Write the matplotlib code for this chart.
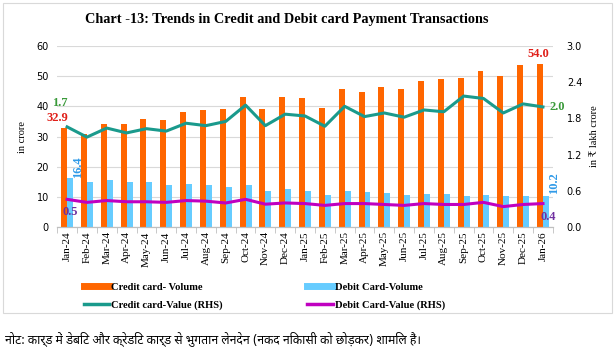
import matplotlib
matplotlib.use("Agg")
import matplotlib.pyplot as plt
from matplotlib.lines import Line2D
import numpy as np
from matplotlib import font_manager

months = ["Jan-24", "Feb-24", "Mar-24", "Apr-24", "May-24", "Jun-24", "Jul-24",
          "Aug-24", "Sep-24", "Oct-24", "Nov-24", "Dec-24", "Jan-25", "Feb-25",
          "Mar-25", "Apr-25", "May-25", "Jun-25", "Jul-25", "Aug-25", "Sep-25",
          "Oct-25", "Nov-25", "Dec-25", "Jan-26"]
credit_volume = [32.9, 30.9, 34.2, 34.2, 35.9, 35.6, 38.2, 38.9, 39.2, 43.2, 39.2, 43.2, 42.9,
                 39.5, 45.8, 44.8, 46.4, 45.8, 48.4, 49.1, 49.4, 51.8, 50.2, 53.8, 54.0]
debit_volume = [16.4, 15.0, 15.6, 15.0, 15.0, 14.0, 14.3, 14.0, 13.3, 14.0, 12.0, 12.7, 12.0,
                10.7, 12.0, 11.6, 11.3, 10.7, 11.0, 11.0, 10.4, 10.7, 10.3, 10.4, 10.2]
credit_value = [1.66, 1.49, 1.64, 1.56, 1.63, 1.59, 1.72, 1.68, 1.75, 2.02, 1.68, 1.87, 1.84,
                1.67, 2.00, 1.83, 1.89, 1.82, 1.94, 1.91, 2.17, 2.13, 1.89, 2.04, 1.99]
debit_value = [0.46, 0.41, 0.44, 0.42, 0.42, 0.41, 0.44, 0.43, 0.40, 0.46, 0.38, 0.40, 0.39,
               0.36, 0.39, 0.39, 0.375, 0.36, 0.39, 0.375, 0.375, 0.41, 0.34, 0.375, 0.39]

note = "नोट: कार्ड में डेबिट और क्रेडिट कार्ड से भुगतान लेनदेन (नकद निकासी को छोड़कर) शामिल हैं।"

# look for a font that can draw devanagari
deva = None
for f in font_manager.findSystemFonts():
    if "devanagari" in f.lower() or "lohit" in f.lower() or "mangal" in f.lower():
        deva = font_manager.FontProperties(fname=f).get_name()
        break

ORANGE = "#FF6600"
BLUE = "#66CCFF"
TEAL = "#1A9A8C"
MAGENTA = "#C000C0"
SERIF = ["Liberation Serif", "DejaVu Serif"]

fig = plt.figure(figsize=(6.15, 3.56), dpi=100)
ax = fig.add_axes([0.093, 0.362, 0.806, 0.509])
ax2 = ax.twinx()

x = np.arange(len(months))
w = 0.3
ax.bar(x - w / 2, credit_volume, w, color=ORANGE, zorder=2)
ax.bar(x + w / 2, debit_volume, w, color=BLUE, zorder=2)
ax2.plot(x, credit_value, color=TEAL, lw=2.2)
ax2.plot(x, debit_value, color=MAGENTA, lw=2.2)

ax.set_ylim(0, 60)
ax.set_yticks(range(0, 61, 10))
ax2.set_ylim(0, 3.0)
ax2.set_yticks(np.arange(0, 3.01, 0.6))
ax2.set_yticklabels(["%.1f" % v for v in np.arange(0, 3.01, 0.6)])
ax.set_xlim(-0.5, len(months) - 0.5)
ax.set_xticks(x)
ax.set_xticklabels(months, rotation=90, family=SERIF, fontsize=8)
ax.set_xticks(np.arange(-0.5, len(months), 1), minor=True)
ax.tick_params(axis="x", which="major", length=0, pad=3)
ax.tick_params(axis="x", which="minor", length=4, color="#BFBFBF")
ax.tick_params(axis="y", length=0, labelsize=7, pad=6)
ax2.tick_params(axis="y", length=0, labelsize=7, pad=10)
ax.grid(axis="y", color="#D9D9D9", lw=0.8, zorder=0)
ax.set_axisbelow(True)
for a in (ax, ax2):
    for s in ("top", "right", "left"):
        a.spines[s].set_visible(False)
    a.spines["bottom"].set_color("#BFBFBF")
ax.set_ylabel("in crore", fontsize=7.5, family=SERIF, labelpad=7)
ax2.set_ylabel("in ₹ lakh crore", fontsize=7.5, family=SERIF, labelpad=6)

# end labels
bold = dict(fontweight="bold", family=SERIF, fontsize=9)
ax.annotate("%.1f" % credit_volume[0], (0, credit_volume[0]), xytext=(-7, 3),
            textcoords="offset points", ha="center", va="bottom", color="#E0201A", **bold)
ax2.annotate("%.1f" % credit_value[0], (0, credit_value[0]), xytext=(-5, 13),
             textcoords="offset points", ha="center", va="bottom", color="#3A9A3A", **bold)
ax.annotate("%.1f" % debit_volume[0], (0 + w / 2, debit_volume[0]), xytext=(6, 0),
            textcoords="offset points", ha="center", va="bottom", rotation=90,
            color="#2F9AE8", **bold)
ax2.annotate("%.1f" % debit_value[0], (0, debit_value[0]), xytext=(2, -5),
             textcoords="offset points", ha="center", va="top", color="#7030A0", **bold)
n = len(months) - 1
ax.annotate("%.1f" % credit_volume[n], (n, credit_volume[n]), xytext=(-3, 3),
            textcoords="offset points", ha="center", va="bottom", color="#E0201A", **bold)
ax2.annotate("%.1f" % credit_value[n], (n, credit_value[n]), xytext=(5, 0),
             textcoords="offset points", ha="left", va="center", color="#3A9A3A", **bold)
ax.annotate("%.1f" % debit_volume[n], (n + w / 2, debit_volume[n]), xytext=(6, 2),
            textcoords="offset points", ha="center", va="bottom", rotation=90,
            color="#2F9AE8", **bold)
ax2.annotate("%.1f" % debit_value[n], (n, debit_value[n]), xytext=(4, -5),
             textcoords="offset points", ha="center", va="top", color="#7030A0", **bold)

fig.text(0.466, 0.945, "Chart -13: Trends in Credit and Debit card Payment Transactions",
         ha="center", va="center", fontsize=10.3, fontweight="bold", family=SERIF)

# legend: order fills columns, so credit entries first
handles = [Line2D([], [], color=ORANGE, lw=5), Line2D([], [], color=TEAL, lw=2.5),
           Line2D([], [], color=BLUE, lw=5), Line2D([], [], color=MAGENTA, lw=2.5)]
labels = ["Credit card- Volume", "Credit card-Value (RHS)",
          "Debit Card-Volume", "Debit Card-Value (RHS)"]
fig.legend(handles, labels, loc="center", bbox_to_anchor=(0.43, 0.168), ncol=2,
           frameon=False, columnspacing=8.0, handlelength=2.4, handletextpad=0.2,
           labelspacing=0.8, prop=dict(family=SERIF, weight="bold", size=7.6))

fig.add_artist(plt.Rectangle((0.005, 0.12), 0.99, 0.872, transform=fig.transFigure,
                             fill=False, ec="#D9D9D9", lw=0.8))
note_family = [deva, "DejaVu Sans"] if deva else ["DejaVu Sans"]
fig.text(0.008, 0.05, note, fontsize=8.8, style="italic", family=note_family, va="center")

fig.savefig("out.png", dpi=100)
